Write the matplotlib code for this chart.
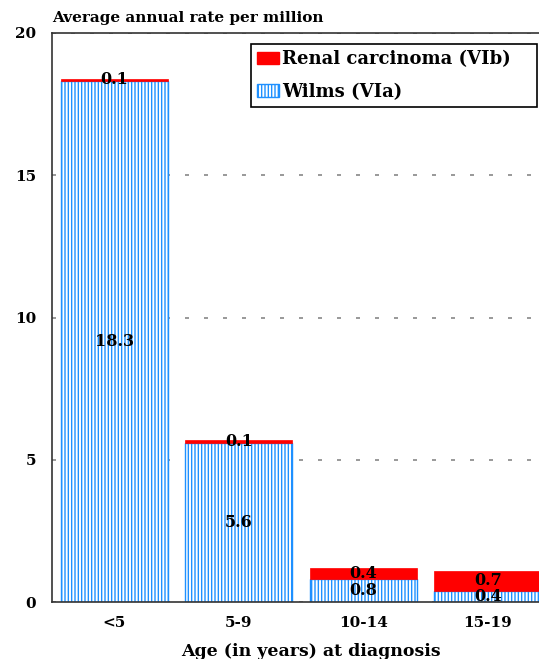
import matplotlib
matplotlib.use("Agg")
import matplotlib.pyplot as plt
from matplotlib.patches import Patch

categories = ["<5", "5-9", "10-14", "15-19"]
wilms = [18.3, 5.6, 0.8, 0.4]
renal = [0.1, 0.1, 0.4, 0.7]
yticks = [0, 5, 10, 15, 20]

plt.rcParams['font.family'] = ['DejaVu Serif']
plt.rcParams['font.weight'] = 'bold'
plt.rcParams['hatch.linewidth'] = 1.0

W, H = 539, 659
fig = plt.figure(figsize=(W/100, H/100), dpi=100)
ax = fig.add_axes([52/W, 1-602/H, 498/W, (602-33)/H])

blue = '#1E90FF'
red = '#FF0000'
x = list(range(len(categories)))
bw = 0.86
ax.bar(x, wilms, width=bw, color='white', edgecolor=blue, hatch='|||||', linewidth=1.0, zorder=2)
ax.bar(x, renal, width=bw, bottom=wilms, color=red, edgecolor=red, linewidth=0.5, zorder=2)

for i in x:
    ax.text(i, wilms[i]/2, f"{wilms[i]}", ha='center', va='center', fontsize=11.5, fontweight='bold', zorder=3)
    ax.text(i, wilms[i] + renal[i]/2, f"{renal[i]}", ha='center', va='center', fontsize=11.5, fontweight='bold', zorder=3)

ax.set_xlim(-0.5, 3.5)
ax.set_ylim(0, 20)
ax.set_yticks(yticks)
ax.set_yticklabels([str(v) for v in yticks], fontsize=11, fontweight='bold')
ax.set_xticks(x)
ax.set_xticklabels(categories, fontsize=11, fontweight='bold')
ax.tick_params(axis='y', length=0, pad=11.5)
ax.tick_params(axis='x', length=0, pad=10)
ax.yaxis.grid(True, color='#888888', linestyle=(0, (2.4, 9)), linewidth=1.2, zorder=0)
ax.set_axisbelow(True)
for s in ['left', 'bottom', 'top']:
    ax.spines[s].set_color('#333333')
    ax.spines[s].set_linewidth(1.2)
ax.spines['right'].set_visible(False)

fig.text(311/W, 1-656/H, "Age (in years) at diagnosis", fontsize=12.5, fontweight='bold',
         ha='center', va='baseline')
fig.text(52/W, 1-18/H, "Average annual rate per million", fontsize=11, fontweight='bold', va='center', ha='left')

handles = [Patch(facecolor=red, edgecolor=red, label="Renal carcinoma (VIb)"),
           Patch(facecolor='white', edgecolor=blue, hatch='|||||', label="Wilms (VIa)")]
leg = fig.legend(handles=handles, loc='upper left',
                 bbox_to_anchor=(251/W, 1-106/H, 286/W, 62/H), mode='expand',
                 prop={'family': 'DejaVu Serif', 'weight': 'bold', 'size': 13},
                 frameon=True, fancybox=False, edgecolor='black', framealpha=1,
                 handlelength=1.2, handleheight=0.7, handletextpad=0.15, borderpad=0.35,
                 labelspacing=0.8, borderaxespad=0)
leg.get_frame().set_linewidth(1.2)

fig.savefig("out.png", dpi=100)
